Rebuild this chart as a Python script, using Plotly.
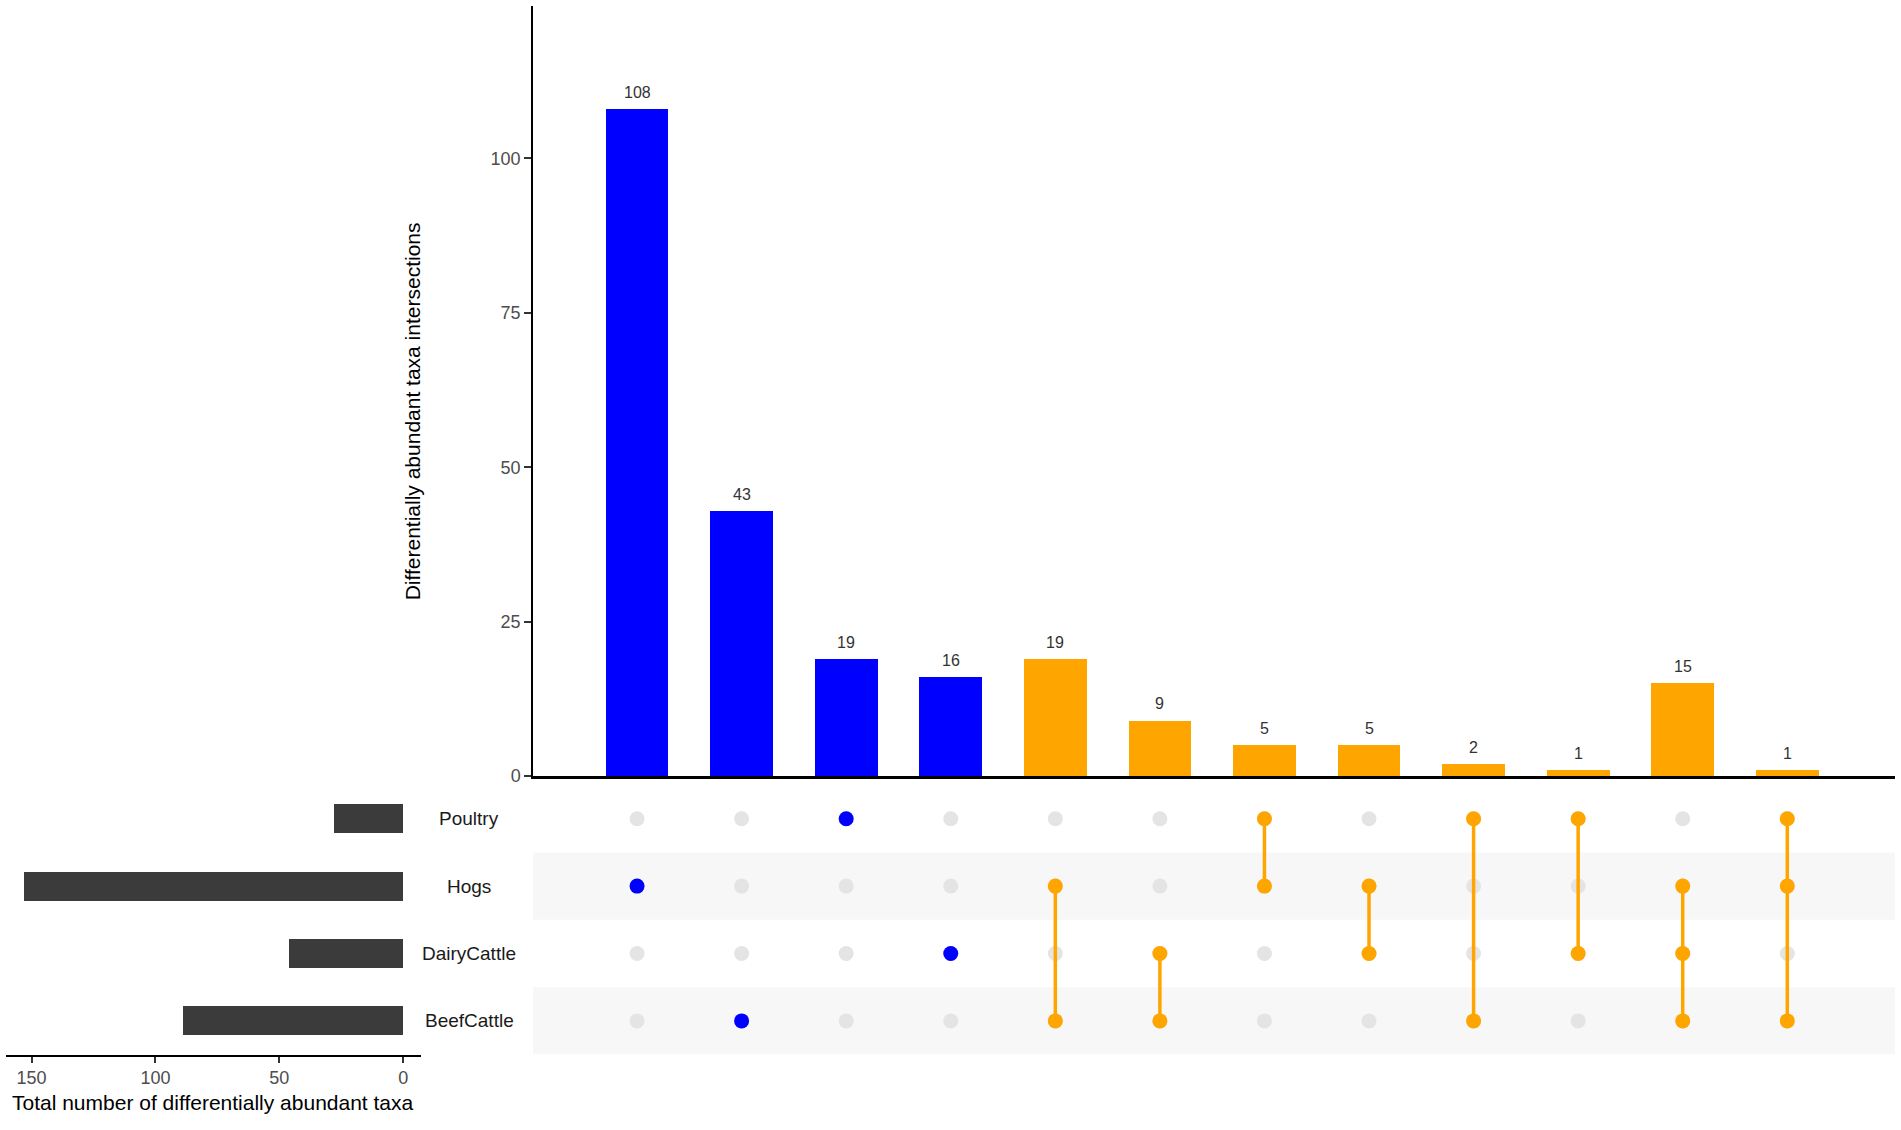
import plotly.graph_objects as go

W, H = 1901, 1130

BLUE = "#0000ff"
ORANGE = "#ffa500"
DARK = "#3b3b3b"
DOT_OFF = "#e4e4e4"
BAND = "#f7f7f7"
TXT = "#4d4d4d"

# sets, top to bottom in the matrix
sets = ["Poultry", "Hogs", "DairyCattle", "BeefCattle"]

# intersections, left to right
counts = [108, 43, 19, 16, 19, 9, 5, 5, 2, 1, 15, 1]
members = [
    ["Hogs"],
    ["BeefCattle"],
    ["Poultry"],
    ["DairyCattle"],
    ["Hogs", "BeefCattle"],
    ["DairyCattle", "BeefCattle"],
    ["Poultry", "Hogs"],
    ["Hogs", "DairyCattle"],
    ["Poultry", "BeefCattle"],
    ["Poultry", "DairyCattle"],
    ["Hogs", "DairyCattle", "BeefCattle"],
    ["Poultry", "Hogs", "BeefCattle"],
]

# set sizes from the intersections
set_totals = [sum(c for c, m in zip(counts, members) if s in m) for s in sets]

cols = list(range(len(counts)))
row_of = {s: len(sets) - 1 - i for i, s in enumerate(sets)}   # Poultry on top
bar_colors = [BLUE if len(m) == 1 else ORANGE for m in members]


def px_x(p):
    return p / W


def px_y(p):
    return 1 - p / H


X_MAIN = [px_x(533), px_x(1895)]
Y_MAIN = [px_y(783), px_y(6)]
Y_MAT = [px_y(1064), px_y(792)]
X_LEFT = [px_x(6), px_x(421)]

fig = go.Figure()

# ── intersection bars ────────────────────────────────────────────────────────
fig.add_trace(go.Bar(
    x=cols, y=counts, width=0.6,
    marker=dict(color=bar_colors, line=dict(width=0)),
    xaxis="x", yaxis="y", showlegend=False,
))

# ── matrix: background dots ──────────────────────────────────────────────────
gx, gy = [], []
for c in cols:
    for s in sets:
        gx.append(c)
        gy.append(row_of[s])
fig.add_trace(go.Scatter(
    x=gx, y=gy, mode="markers",
    marker=dict(size=15, color=DOT_OFF),
    xaxis="x2", yaxis="y2", showlegend=False, hoverinfo="skip",
))

# connecting lines
lx, ly = [], []
for c, m in zip(cols, members):
    if len(m) > 1:
        rows = [row_of[s] for s in m]
        lx += [c, c, None]
        ly += [min(rows), max(rows), None]
fig.add_trace(go.Scatter(
    x=lx, y=ly, mode="lines",
    line=dict(color=ORANGE, width=3.5),
    xaxis="x2", yaxis="y2", showlegend=False, hoverinfo="skip",
))

# active dots
ax, ay, ac = [], [], []
for c, m, col in zip(cols, members, bar_colors):
    for s in m:
        ax.append(c)
        ay.append(row_of[s])
        ac.append(col)
fig.add_trace(go.Scatter(
    x=ax, y=ay, mode="markers",
    marker=dict(size=15, color=ac),
    xaxis="x2", yaxis="y2", showlegend=False,
))

# ── set size bars (left) ─────────────────────────────────────────────────────
fig.add_trace(go.Bar(
    x=set_totals, y=[row_of[s] for s in sets], orientation="h", width=0.43,
    marker=dict(color=DARK, line=dict(width=0)),
    xaxis="x3", yaxis="y3", showlegend=False,
))

# shaded rows
shapes = []
for i, s in enumerate(sets):
    if i % 2 == 1:
        r = row_of[s]
        shapes.append(dict(
            type="rect", xref="paper", yref="y2",
            x0=X_MAIN[0], x1=X_MAIN[1], y0=r - 0.5, y1=r + 0.5,
            fillcolor=BAND, line=dict(width=0), layer="below",
        ))

annotations = []
# bar count labels
for c, n in zip(cols, counts):
    annotations.append(dict(
        text=str(n), xref="x", yref="y", x=c, y=n,
        showarrow=False, xanchor="center", yanchor="bottom", yshift=6,
        font=dict(size=16, color="#333333"),
    ))
for s in sets:
    annotations.append(dict(
        text=s, xref="paper", yref="y2", x=px_x(469), y=row_of[s],
        showarrow=False, xanchor="center", yanchor="middle",
        font=dict(size=19, color="#1a1a1a"),
    ))
annotations.append(dict(
    text="Differentially abundant taxa intersections",
    xref="paper", yref="paper", x=px_x(412), y=px_y(415),
    textangle=-90, showarrow=False, xanchor="center", yanchor="middle",
    font=dict(size=21, color="#000000"),
))
annotations.append(dict(
    text="Total number of differentially abundant taxa",
    xref="paper", yref="paper", x=px_x(213), y=px_y(1112),
    showarrow=False, xanchor="center", yanchor="middle",
    font=dict(size=21, color="#000000"),
))

fig.update_layout(
    width=W, height=H,
    margin=dict(l=0, r=0, t=0, b=0),
    paper_bgcolor="white", plot_bgcolor="rgba(0,0,0,0)",
    font=dict(family="Liberation Sans, Arial, sans-serif", size=18, color=TXT),
    bargap=0,
    shapes=shapes,
    annotations=annotations,
    xaxis=dict(
        domain=X_MAIN, range=[-0.995, 12.03], anchor="y",
        showline=True, linecolor="black", linewidth=2.5,
        showticklabels=False, ticks="", showgrid=False, zeroline=False,
    ),
    yaxis=dict(
        domain=Y_MAIN, range=[0, 124.7], anchor="x",
        tickvals=[0, 25, 50, 75, 100], ticks="outside", ticklen=7,
        tickwidth=2, tickcolor="#333333",
        showline=True, linecolor="black", linewidth=1.5,
        showgrid=False, zeroline=False,
        tickfont=dict(size=18, color=TXT),
    ),
    xaxis2=dict(
        domain=X_MAIN, range=[-0.995, 12.03], anchor="y2",
        showline=False, showticklabels=False, ticks="",
        showgrid=False, zeroline=False,
    ),
    yaxis2=dict(
        domain=Y_MAT, range=[-0.5, len(sets) - 0.5], anchor="x2",
        showline=False, showticklabels=False, ticks="",
        showgrid=False, zeroline=False,
    ),
    xaxis3=dict(
        domain=X_LEFT, range=[160.3, -7.2], anchor="y3",
        tickvals=[0, 50, 100, 150], ticks="outside", ticklen=6,
        tickwidth=2, tickcolor="#333333",
        showline=True, linecolor="black", linewidth=2,
        showgrid=False, zeroline=False,
        tickfont=dict(size=18, color=TXT),
    ),
    yaxis3=dict(
        domain=Y_MAT, range=[-0.5, len(sets) - 0.5], anchor="x3",
        showline=False, showticklabels=False, ticks="",
        showgrid=False, zeroline=False,
    ),
)

fig.write_html(
    "out.html",
    config={"displayModeBar": False},
    post_script=(
        "document.documentElement.style.margin='0';"
        "document.documentElement.style.overflow='hidden';"
        "document.body.style.margin='0';"
        "document.body.style.overflow='hidden';"
        "var d=document.getElementById('{plot_id}').parentElement;"
        "d.style.position='fixed';d.style.left='0';d.style.top='0';"
    ),
)
